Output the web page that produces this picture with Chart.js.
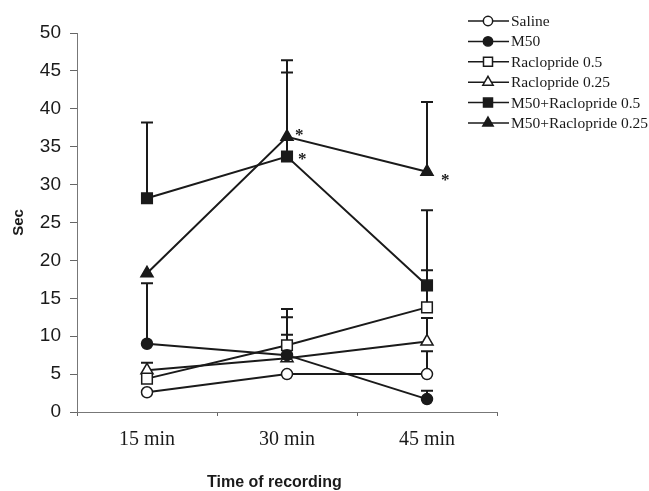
<!DOCTYPE html>
<html>
<head>
<meta charset="utf-8">
<script src="https://cdn.jsdelivr.net/npm/chart.js@4.4.1/dist/chart.umd.min.js"></script>
<style>
  html, body { margin: 0; padding: 0; background: #ffffff; }
  #wrap { width: 649px; height: 491px; position: relative; }
</style>
</head>
<body>
<div id="wrap"><canvas id="c" width="649" height="491"></canvas></div>
<script>
// ---- data ----
const categories = ['15 min', '30 min', '45 min'];
const seriesNames = ['Saline', 'M50', 'Raclopride 0.5', 'Raclopride 0.25', 'M50+Raclopride 0.5', 'M50+Raclopride 0.25'];
const saline       = [2.6, 5.0, 5.0];
const m50          = [9.0, 7.5, 1.7];
const rac05        = [4.4, 8.8, 13.8];
const rac025       = [5.5, 7.1, 9.3];
const m50rac05     = [28.2, 33.7, 16.7];
const m50rac025    = [18.3, 36.3, 31.7];
// upward error (SEM) bars
const salineErr    = [null, null, 3.0];
const m50Err       = [8.0, 2.7, 1.1];
const rac05Err     = [2.1, 4.8, 4.9];
const rac025Err    = [null, 5.4, 3.1];
const m50rac05Err  = [10.0, 11.1, 9.9];
const m50rac025Err = [null, 10.1, 9.2];
// significance markers
const m50rac05Sig  = [false, true, false];
const m50rac025Sig = [false, true, true];
const yTicks = [0, 5, 10, 15, 20, 25, 30, 35, 40, 45, 50];
const xTitle = 'Time of recording';

const ink = '#1a1a1a';
function ds(label, data, err, sig, style, filled, radius) {
  return {
    label, data, err, sig,
    borderColor: ink, borderWidth: 2,
    pointStyle: style, pointRadius: radius, pointHoverRadius: radius,
    pointBackgroundColor: filled ? ink : '#ffffff',
    pointBorderColor: ink, pointBorderWidth: 1.5,
    tension: 0, fill: false
  };
}
const datasets = [
  ds(seriesNames[0], saline, salineErr, null, 'circle', false, 5.5),
  ds(seriesNames[1], m50, m50Err, null, 'circle', true, 5.5),
  ds(seriesNames[2], rac05, rac05Err, null, 'rect', false, 7.5),
  ds(seriesNames[3], rac025, rac025Err, null, 'triangle', false, 7),
  ds(seriesNames[4], m50rac05, m50rac05Err, m50rac05Sig, 'rect', true, 7.5),
  ds(seriesNames[5], m50rac025, m50rac025Err, m50rac025Sig, 'triangle', true, 7)
];

const errorBars = {
  id: 'errorBars',
  beforeDatasetsDraw(chart) {
    const ctx = chart.ctx, y = chart.scales.y;
    ctx.save();
    ctx.strokeStyle = ink; ctx.lineWidth = 2;
    chart.data.datasets.forEach((d, i) => {
      const meta = chart.getDatasetMeta(i);
      meta.data.forEach((pt, j) => {
        const e = d.err[j];
        if (e == null) return;
        const yTop = y.getPixelForValue(d.data[j] + e);
        ctx.beginPath();
        ctx.moveTo(pt.x, pt.y); ctx.lineTo(pt.x, yTop);
        ctx.moveTo(pt.x - 6, yTop); ctx.lineTo(pt.x + 6, yTop);
        ctx.stroke();
      });
    });
    ctx.restore();
  },
  afterDatasetsDraw(chart) {
    const ctx = chart.ctx;
    ctx.save();
    ctx.fillStyle = ink;
    ctx.font = 'bold 17px "Liberation Serif"';
    ctx.textBaseline = 'middle';
    chart.data.datasets.forEach((d, i) => {
      if (!d.sig) return;
      const meta = chart.getDatasetMeta(i);
      meta.data.forEach((pt, j) => {
        if (d.sig[j]) ctx.fillText('*', pt.x + 8 + (j === 2 ? 6 : 0) + (i === 4 ? 3 : 0), pt.y + (j === 2 ? 6 : 0) + (i === 5 && j === 1 ? -1 : 3));
      });
    });
    ctx.restore();
  }
};

const sideLegend = {
  id: 'sideLegend',
  afterDraw(chart) {
    const ctx = chart.ctx;
    ctx.save();
    ctx.font = '15.5px "Liberation Serif"';
    ctx.textBaseline = 'middle';
    chart.data.datasets.forEach((d, i) => {
      const yy = 21 + i * 20.4;
      ctx.strokeStyle = ink; ctx.lineWidth = 1.5;
      ctx.beginPath(); ctx.moveTo(468, yy); ctx.lineTo(509, yy); ctx.stroke();
      ctx.fillStyle = d.pointBackgroundColor;
      ctx.strokeStyle = ink; ctx.lineWidth = 1.5;
      Chart.helpers.drawPoint(ctx, { pointStyle: d.pointStyle, radius: d.pointRadius * 0.85, rotation: 0, borderWidth: 1.5 }, 488, yy);
      ctx.fillStyle = ink;
      ctx.fillText(d.label, 511, yy + 1);
    });
    // x-axis title (slightly left of the axis centre, as in the reference)
    ctx.font = 'bold 16px "Liberation Sans"';
    ctx.textAlign = 'center';
    ctx.fillText(xTitle, chart.chartArea.left + (chart.chartArea.right - chart.chartArea.left) * 0.47, 483);
    ctx.restore();
  }
};

new Chart(document.getElementById('c'), {
  type: 'line',
  data: { labels: categories, datasets },
  options: {
    responsive: false,
    animation: false,
    devicePixelRatio: 1,
    layout: { padding: { top: 33, right: 152, left: 0, bottom: 0 } },
    plugins: { legend: { display: false }, tooltip: { enabled: false } },
    scales: {
      x: {
        type: 'category',
        offset: true,
        grid: { offset: true, drawOnChartArea: false, drawTicks: true, tickLength: 4, color: '#666' },
        border: { display: true, color: '#777', width: 1 },
        ticks: { color: ink, font: { family: '"Liberation Serif"', size: 20 }, padding: 12 },
        title: { display: false },
        afterFit(s) { s.height = 79; }
      },
      y: {
        min: 0, max: 50,
        afterBuildTicks(s) { s.ticks = yTicks.map(v => ({ value: v })); },
        grid: { drawOnChartArea: false, drawTicks: true, tickLength: 7, color: '#666' },
        border: { display: true, color: '#777', width: 1 },
        ticks: { color: ink, font: { family: '"Liberation Sans"', size: 19 }, padding: 9 },
        title: { display: true, text: 'Sec', color: ink, font: { family: '"Liberation Sans"', size: 15, weight: 'bold' }, padding: { top: 10, bottom: 0 } },
        afterFit(s) { s.width = 77; }
      }
    }
  },
  plugins: [errorBars, sideLegend]
});
</script>
</body>
</html>
